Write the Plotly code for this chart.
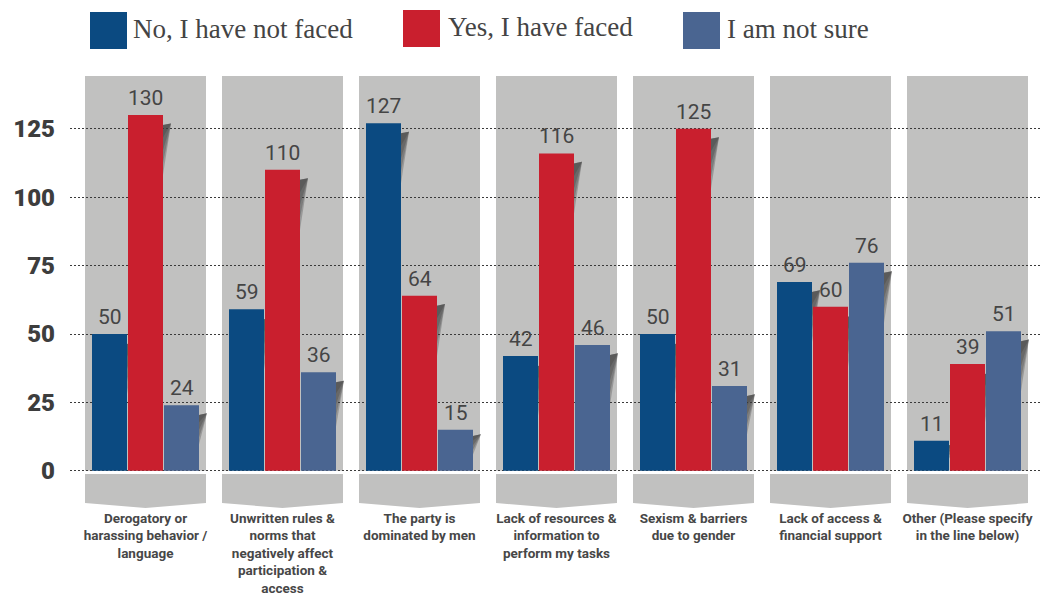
import plotly.graph_objects as go

# Survey answers per barrier type
categories = [
    "Derogatory or harassing behavior / language",
    "Unwritten rules & norms that negatively affect participation & access",
    "The party is dominated by men",
    "Lack of resources & information to perform my tasks",
    "Sexism & barriers due to gender",
    "Lack of access & financial support",
    "Other (Please specify in the line below)",
]
tick_labels = [
    "Derogatory or<br>harassing behavior /<br>language",
    "Unwritten rules &<br>norms that<br>negatively affect<br>participation &<br>access",
    "The party is<br>dominated by men",
    "Lack of resources &<br>information to<br>perform my tasks",
    "Sexism & barriers<br>due to gender",
    "Lack of access &<br>financial support",
    "Other (Please specify<br>in the line below)",
]
series_names = ["No, I have not faced", "Yes, I have faced", "I am not sure"]
no_faced = [50, 59, 127, 42, 50, 69, 11]
yes_faced = [130, 110, 64, 116, 125, 60, 39]
not_sure = [24, 36, 15, 46, 31, 76, 51]
y_ticks = [0, 25, 50, 75, 100, 125]

colors = ["#0b4a81", "#c91f2e", "#4a6591"]
series = [no_faced, yes_faced, not_sure]

# Canvas geometry (pixels)
W, H = 1042, 595
M_L, M_R, M_T, M_B = 70, 0, 76, 87
PX_PER_CAT = 137.0          # distance between category centres
Y_MIN, Y_MAX = -13.6, 144.3
plot_h = H - M_T - M_B
PX_PER_Y = plot_h / (Y_MAX - Y_MIN)
X_MIN = -75.5 / PX_PER_CAT
X_MAX = X_MIN + (W - M_L - M_R) / PX_PER_CAT

BAR_W = 35 / PX_PER_CAT
BAR_STEP = 36 / PX_PER_CAT
PANEL_HALF = 60.5 / PX_PER_CAT

xs = list(range(len(categories)))

fig = go.Figure()
annotations = []
for i, (name, vals, col) in enumerate(zip(series_names, series, colors)):
    fig.add_trace(go.Bar(
        x=xs, y=vals, name=name,
        width=BAR_W, offset=(i - 1) * BAR_STEP - BAR_W / 2,
        marker=dict(color=col, line=dict(width=0)),
        showlegend=False, hovertemplate="%{y}<extra>" + name + "</extra>",
    ))
    # value labels sitting just above each bar
    for k, v in zip(xs, vals):
        annotations.append(dict(
            x=k + (i - 1) * BAR_STEP, y=v, xref="x", yref="y",
            text=str(v), showarrow=False, xanchor="center", yanchor="bottom",
            yshift=3, font=dict(family="Roboto", size=21, color="#454545")))

shapes = []
# Grey panels behind each group, with a chevron band below
for k in xs:
    shapes.append(dict(type="rect", xref="x", yref="y", layer="below",
                       x0=k - PANEL_HALF, x1=k + PANEL_HALF, y0=0, y1=Y_MAX,
                       fillcolor="#c1c1c0", line=dict(width=0)))
    top, side, tip = -1.2, -11.8, Y_MIN
    path = (f"M{k - PANEL_HALF},{top} L{k + PANEL_HALF},{top} L{k + PANEL_HALF},{side} "
            f"L{k},{tip} L{k - PANEL_HALF},{side} Z")
    shapes.append(dict(type="path", xref="x", yref="y", layer="below", path=path,
                       fillcolor="#c1c1c0", line=dict(width=0)))

# Fading wedge shadows on the right side of every bar (nested translucent triangles)
SH_W = 8 / PX_PER_CAT
N_LAYERS = 4
for i, vals in enumerate(series):
    for k, v in zip(xs, vals):
        h_px = v * PX_PER_Y
        start = v - min(10, 0.15 * h_px) / PX_PER_Y
        length = min(50, 0.45 * h_px) / PX_PER_Y
        xr = k + (i - 1) * BAR_STEP + BAR_W / 2
        for j in range(N_LAYERS):
            lj = length * (N_LAYERS - j) / N_LAYERS
            path = f"M{xr},{start} L{xr + SH_W},{start + 0.6} L{xr},{start - lj} Z"
            shapes.append(dict(type="path", xref="x", yref="y", layer="between",
                               path=path, fillcolor="rgba(60,60,60,0.3)",
                               line=dict(width=0)))


def px_to_paper(px, py):
    return (px - M_L) / (W - M_L - M_R), (H - M_B - py) / plot_h


# Custom legend with large colour swatches
legend_items = [(90, 12, 131), (403, 10, 446), (683, 12, 725)]
for (sx, sy, tx), name, col in zip(legend_items, series_names, colors):
    x0, y1 = px_to_paper(sx, sy)
    x1, y0 = px_to_paper(sx + 37, sy + 37)
    shapes.append(dict(type="rect", xref="paper", yref="paper", x0=x0, x1=x1,
                       y0=y0, y1=y1, fillcolor=col, line=dict(width=0)))
    ax, ay = px_to_paper(tx, sy + 17)
    annotations.append(dict(text=name, xref="paper", yref="paper", x=ax, y=ay,
                            xanchor="left", yanchor="middle", showarrow=False,
                            font=dict(family="Liberation Serif", size=27, color="#444444")))

fig.update_layout(
    width=W, height=H,
    margin=dict(l=M_L, r=M_R, t=M_T, b=M_B, autoexpand=False),
    paper_bgcolor="white", plot_bgcolor="white",
    barmode="overlay",
    shapes=shapes, annotations=annotations,
    xaxis=dict(range=[X_MIN, X_MAX], tickvals=xs, ticktext=tick_labels,
               showgrid=False, zeroline=False, showline=False, ticks="",
               tickfont=dict(family="Roboto", size=13.5, color="#474747", weight="bold")),
    yaxis=dict(range=[Y_MIN, Y_MAX], tickvals=y_ticks, showgrid=True,
               gridcolor="#3a3a3a", griddash="2px,2px", gridwidth=1,
               zeroline=False, showline=False, ticks="", ticklabelstandoff=14,
               tickfont=dict(family="Roboto", size=24, color="#3d3d3d", weight=900)),
)

fig.write_html("out.html")
